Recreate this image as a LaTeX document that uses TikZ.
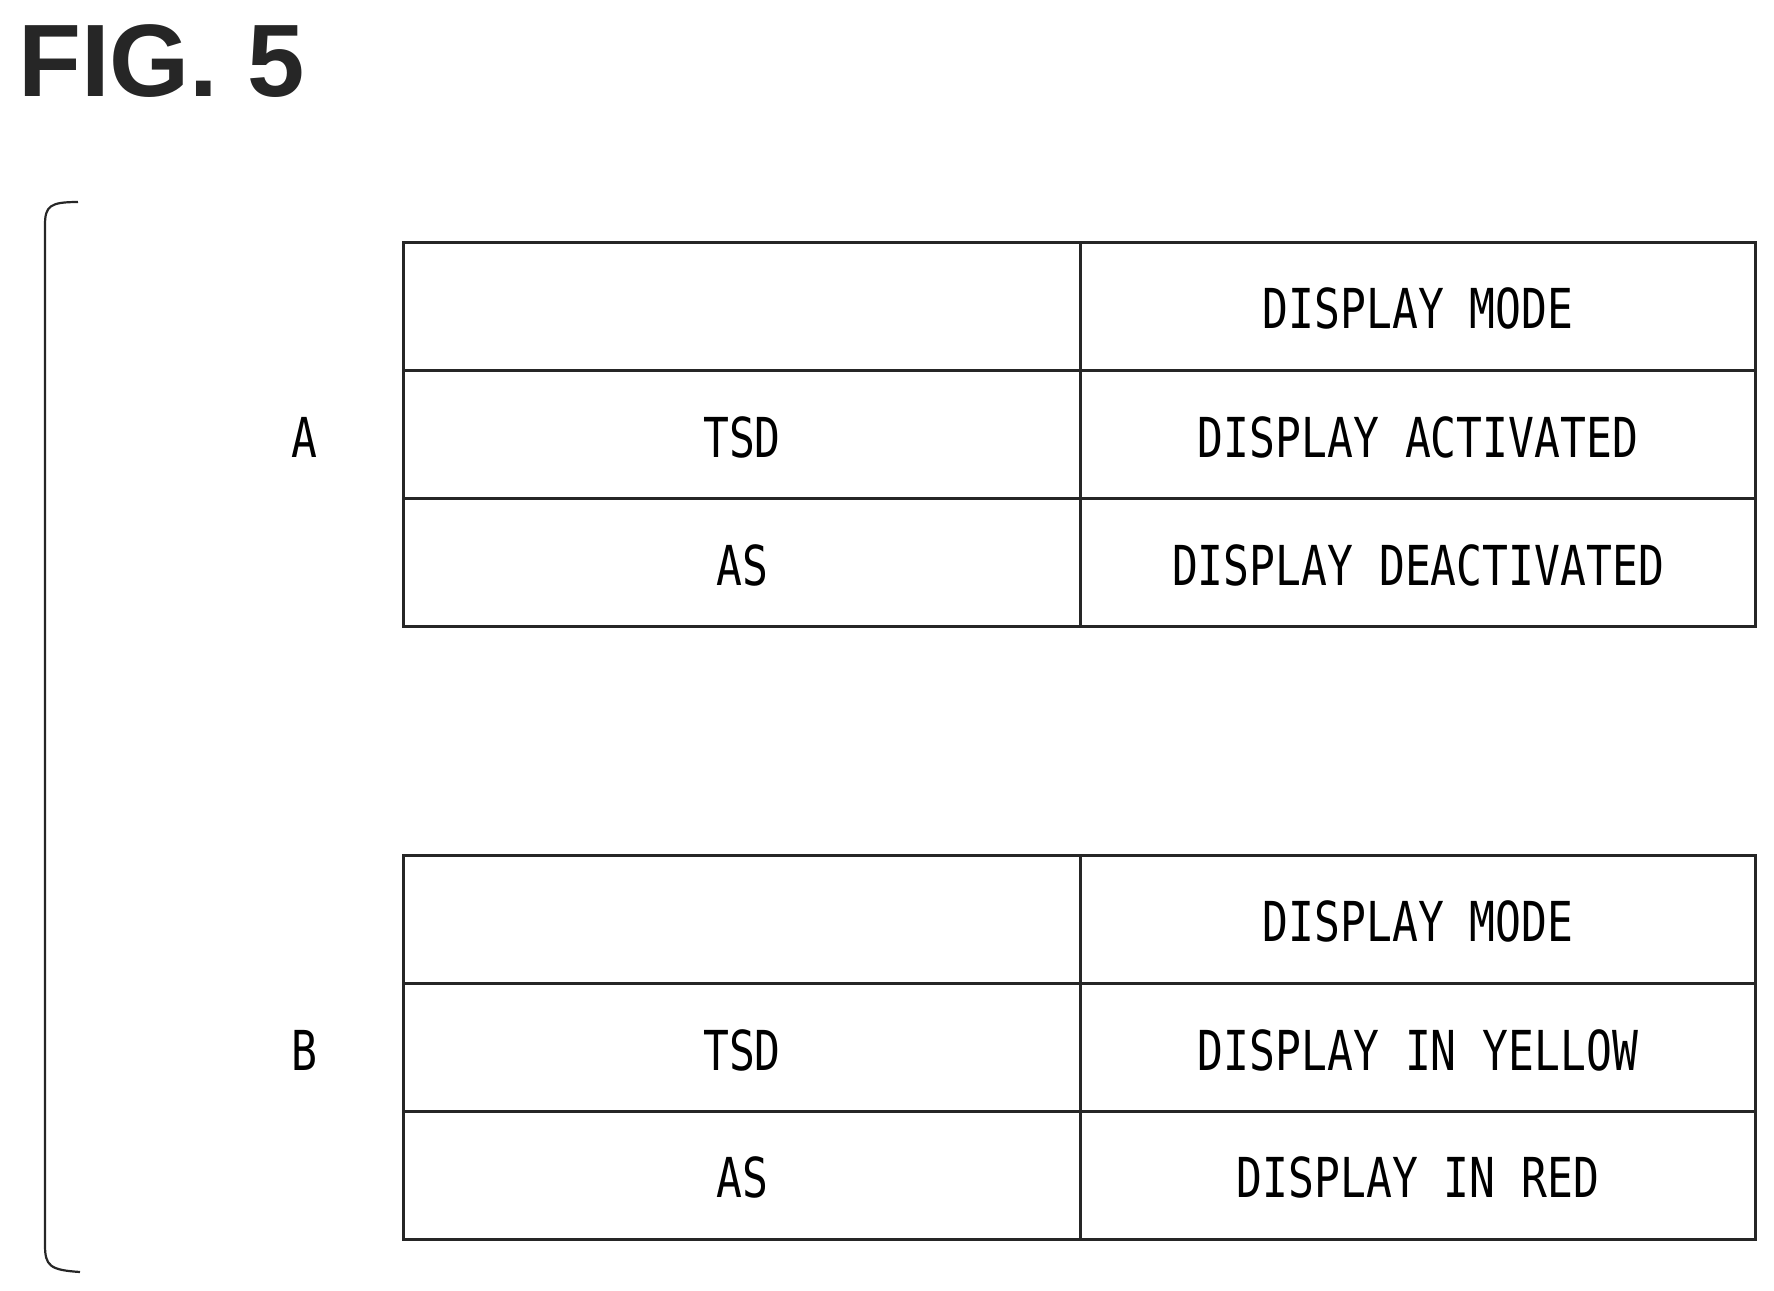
\documentclass[tikz,border=0pt]{standalone}
\usepackage{fontspec}
\setmainfont{Liberation Sans}
\newfontfamily\monof{DejaVu Sans Mono}
\newcommand{\tx}[1]{\scalebox{1}[1.28]{#1}}
\begin{document}
\begin{tikzpicture}[x=1pt,y=-1pt,
  ln/.style={line width=3pt,draw=black!85},
  cell/.style={font=\monof\fontsize{43}{50}\selectfont,anchor=center,inner sep=0pt}]
\useasboundingbox (0,0) rectangle (1774,1290);
\node[anchor=north west,inner sep=0pt,font=\bfseries\fontsize{103}{110}\selectfont,text=black!85] (title) at (18,24) {FIG. 5};
% bracket
\draw[ln,line width=2.2pt] (78,202) .. controls (50,202) and (45,206) .. (45,225) -- (45,1245) .. controls (45,1266) and (50,1270) .. (80,1272);
% table A
\foreach \yy/\nm in {242/A,855/B}{
  \draw[ln] (403,\yy) rectangle (1755,\yy+384);
  \draw[ln] (1080,\yy) -- (1080,\yy+384);
  \draw[ln] (403,\yy+128) -- (1755,\yy+128);
  \draw[ln] (403,\yy+256) -- (1755,\yy+256);
}
\node[cell] (la) at (304,437) {\tx{A}};
\node[cell] (lb) at (304,1050) {\tx{B}};
\node[cell] (a1) at (1418,308) {\tx{DISPLAY MODE}};
\node[cell] (a2) at (742,437) {\tx{TSD}};
\node[cell] (a3) at (1418,437) {\tx{DISPLAY ACTIVATED}};
\node[cell] (a4) at (742,565) {\tx{AS}};
\node[cell] (a5) at (1418,565) {\tx{DISPLAY DEACTIVATED}};
\node[cell] (b1) at (1418,921) {\tx{DISPLAY MODE}};
\node[cell] (b2) at (742,1050) {\tx{TSD}};
\node[cell] (b3) at (1418,1050) {\tx{DISPLAY IN YELLOW}};
\node[cell] (b4) at (742,1177) {\tx{AS}};
\node[cell] (b5) at (1418,1177) {\tx{DISPLAY IN RED}};
\end{tikzpicture}
\end{document}
